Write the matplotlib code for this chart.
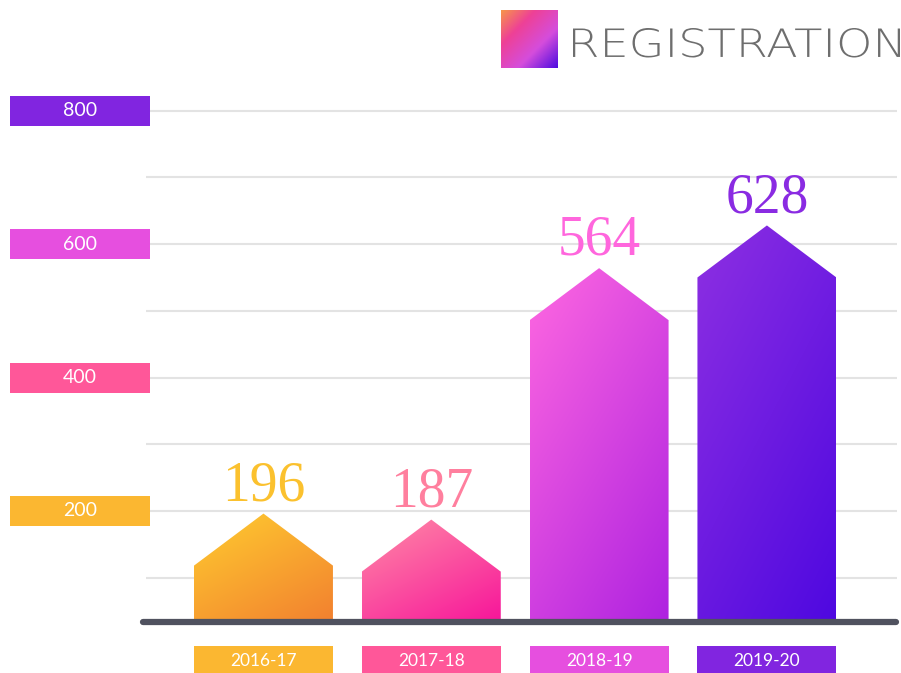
import numpy as np
import matplotlib
matplotlib.use("Agg")
import matplotlib.pyplot as plt
from matplotlib.patches import Polygon, Rectangle, PathPatch
from matplotlib.colors import LinearSegmentedColormap, to_rgb
from matplotlib.textpath import TextPath
from matplotlib.font_manager import FontProperties
from matplotlib.transforms import Affine2D, IdentityTransform

# ---- data -------------------------------------------------------------
seasons = ["2016-17", "2017-18", "2018-19", "2019-20"]
registrations = [196, 187, 564, 628]
tick_values = [200, 400, 600, 800]
grid_values = [100, 200, 300, 400, 500, 600, 700, 800]
title = "REGISTRATION"

# ---- styling ----------------------------------------------------------
value_colors = ["#FBC12E", "#FF7F9E", "#FF66DD", "#8A2BE2"]
bar_gradients = [("#FFCD30", "#F2802F"), ("#FF8CA6", "#F7159A"),
                 ("#FF68E1", "#AE22E0"), ("#8E30E2", "#4E08E0")]
season_colors = ["#FBB731", "#FF5799", "#E64FDF", "#8125E0"]
tick_colors = {200: "#FBB731", 400: "#FF5799", 600: "#E64FDF", 800: "#8125E0"}

BAR_W = 0.828
ROOF = 78          # height of the pointed roof in data units
BASE = 33.4        # where the dark baseline sits


def gradient_image(c0, c1, nx=120, ny=240, wx=0.4, wy=0.6):
    """Diagonal gradient from c0 (top-left) to c1 (bottom-right)."""
    u = np.linspace(0, 1, nx)[None, :]
    w = np.linspace(0, 1, ny)[:, None]
    t = np.clip(wx * u + wy * w, 0, 1)
    a, b = np.array(to_rgb(c0)), np.array(to_rgb(c1))
    return a[None, None, :] * (1 - t[..., None]) + b[None, None, :] * t[..., None]


fig = plt.figure(figsize=(9.01, 6.73), dpi=100)
ax = fig.add_axes([0, 0, 1, 1])
ax.axis("off")

# grid lines
ax.hlines(grid_values, -0.70, 3.775, color="#E3E3E3", lw=1.5, zorder=0)

# y tick boxes
for v in tick_values:
    ax.add_patch(Rectangle((-1.508, v - 22.5), 0.829, 45,
                           facecolor=tick_colors[v], edgecolor="none", zorder=2))
    ax.text(-1.093, v, str(v), ha="center", va="center", color="white",
            fontsize=14, family="Lato", zorder=3)

# house-shaped bars with gradients
for i, (v, (c0, c1)) in enumerate(zip(registrations, bar_gradients)):
    x0, x1 = i - BAR_W / 2, i + BAR_W / 2
    shape = Polygon([(x0, BASE), (x0, v - ROOF), (i, v), (x1, v - ROOF), (x1, BASE)],
                    closed=True, facecolor="none", edgecolor="none")
    ax.add_patch(shape)
    im = ax.imshow(gradient_image(c0, c1), extent=(x0, x1, BASE, v),
                   origin="upper", aspect="auto", zorder=2, interpolation="bilinear")
    im.set_clip_path(shape)
    ax.text(i, v + 20, str(v), ha="center", va="baseline", fontsize=40,
            family="Liberation Serif", color=value_colors[i], zorder=3)

# baseline
ax.plot([-0.718, 3.769], [BASE, BASE], color="#50525F", lw=4.5,
        solid_capstyle="round", zorder=4)

# season boxes
for i, s in enumerate(seasons):
    ax.add_patch(Rectangle((i - BAR_W / 2, -50), BAR_W, 47.5,
                           facecolor=season_colors[i], edgecolor="none", zorder=2))
    ax.text(i, -25, s, ha="center", va="center", color="white",
            fontsize=12.5, family="Lato", zorder=3)

ax.set_xlim(-1.570, 3.799)
ax.set_ylim(-43, 966)

# title with gradient square
sq = fig.add_axes([501 / 901, 1 - 68 / 673, 57 / 901, 58 / 673])
sq.axis("off")
n = 100
u = np.linspace(0, 1, n)[None, :]
w = np.linspace(0, 1, n)[:, None]
t = np.clip((u + w) / 2, 0, 1)
cmap = LinearSegmentedColormap.from_list(
    "sq", [(0, "#F7954A"), (0.3, "#EE4196"), (0.65, "#D54DDC"), (1, "#4E0BE0")])
sq.imshow(t, cmap=cmap, aspect="auto", interpolation="bilinear")

# wide, light title: draw as a path and stretch it to the reference width
tp = TextPath((0, 0), title, size=40,
              prop=FontProperties(family="DejaVu Sans", weight="light"))
bb = tp.get_extents()
sx = 327 / bb.width
sy = 29.5 / bb.height
tr = Affine2D().translate(-bb.x0, -bb.y0).scale(sx, sy).translate(573, 673 - 57.5)
fig.patches.append(PathPatch(tp, transform=tr + IdentityTransform(),
                             facecolor="#6E6E6E", edgecolor="none",
                             figure=fig))

fig.savefig("out.png", dpi=100)
